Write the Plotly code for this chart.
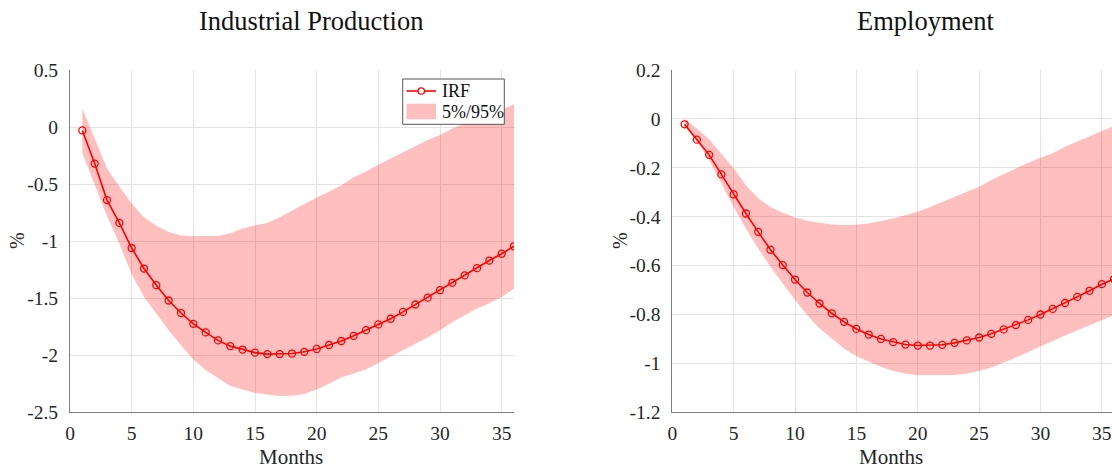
import plotly.graph_objects as go

months = list(range(1, 37))

# Industrial Production
ip_irf = [-0.03, -0.32, -0.64, -0.84, -1.06, -1.24, -1.386, -1.52, -1.63, -1.725,
          -1.80, -1.87, -1.92, -1.95, -1.977, -1.99, -1.99, -1.985, -1.97, -1.945,
          -1.91, -1.875, -1.83, -1.78, -1.73, -1.68, -1.62, -1.555, -1.495, -1.43,
          -1.365, -1.30, -1.237, -1.17, -1.11, -1.045]
ip_hi = [0.16, -0.10, -0.36, -0.52, -0.67, -0.79, -0.866, -0.92, -0.95, -0.955,
         -0.955, -0.955, -0.93, -0.89, -0.86, -0.84, -0.79, -0.73, -0.675, -0.617,
         -0.567, -0.51, -0.44, -0.39, -0.33, -0.275, -0.217, -0.164, -0.114, -0.07,
         -0.012, 0.032, 0.067, 0.105, 0.15, 0.20]
ip_lo = [-0.23, -0.50, -0.78, -1.02, -1.29, -1.49, -1.635, -1.78, -1.91, -2.04,
         -2.13, -2.20, -2.27, -2.30, -2.33, -2.345, -2.357, -2.355, -2.34, -2.30,
         -2.25, -2.195, -2.16, -2.125, -2.07, -2.01, -1.955, -1.90, -1.845, -1.78,
         -1.71, -1.65, -1.59, -1.545, -1.49, -1.415]

# Employment
emp_irf = [-0.022, -0.085, -0.147, -0.227, -0.309, -0.387, -0.462, -0.535, -0.598, -0.657,
           -0.71, -0.755, -0.795, -0.83, -0.859, -0.882, -0.90, -0.913, -0.923, -0.927,
           -0.927, -0.924, -0.916, -0.906, -0.894, -0.879, -0.861, -0.843, -0.822, -0.80,
           -0.777, -0.753, -0.728, -0.703, -0.676, -0.655]
emp_hi = [0.0, -0.039, -0.084, -0.141, -0.202, -0.271, -0.325, -0.36, -0.384, -0.403,
          -0.417, -0.425, -0.432, -0.434, -0.433, -0.428, -0.418, -0.407, -0.394, -0.38,
          -0.36, -0.339, -0.319, -0.298, -0.278, -0.25, -0.226, -0.202, -0.179, -0.159,
          -0.141, -0.114, -0.093, -0.073, -0.052, -0.028]
emp_lo = [-0.03, -0.093, -0.168, -0.264, -0.36, -0.448, -0.53, -0.605, -0.673, -0.741,
          -0.803, -0.857, -0.898, -0.939, -0.971, -0.991, -1.014, -1.031, -1.041, -1.048,
          -1.048, -1.048, -1.047, -1.041, -1.031, -1.017, -0.998, -0.976, -0.953, -0.932,
          -0.908, -0.886, -0.864, -0.844, -0.823, -0.803]

x_ticks = [0, 5, 10, 15, 20, 25, 30, 35]
ip_ticks = [0.5, 0, -0.5, -1, -1.5, -2, -2.5]
ip_ticktext = ["0.5", "0", "-0.5", "-1", "-1.5", "-2", "-2.5"]
emp_ticks = [0.2, 0, -0.2, -0.4, -0.6, -0.8, -1, -1.2]
emp_ticktext = ["0.2", "0", "-0.2", "-0.4", "-0.6", "-0.8", "-1", "-1.2"]
titles = ["Industrial Production", "Employment"]
legend_labels = ["IRF", "5%/95%"]

W, H = 1112, 468
FONT = "Liberation Serif, Times New Roman, serif"
RED = "#ff0000"
BAND = "rgba(255,0,0,0.25)"
TXT = "#262626"

fig = go.Figure()


def add_panel(xa, ya, irf, lo, hi):
    fig.add_trace(go.Scatter(
        x=months + months[::-1], y=hi + lo[::-1], xaxis=xa, yaxis=ya,
        fill="toself", fillcolor=BAND, line=dict(width=0), mode="lines",
        name=legend_labels[1], showlegend=False, hoverinfo="skip"))
    fig.add_trace(go.Scatter(
        x=months, y=irf, xaxis=xa, yaxis=ya, mode="lines+markers",
        line=dict(color=RED, width=1.6),
        marker=dict(symbol="circle-open", size=7, color=RED, line=dict(width=1.3)),
        name=legend_labels[0], showlegend=False))


add_panel("x", "y", ip_irf, ip_lo, ip_hi)
add_panel("x2", "y2", emp_irf, emp_lo, emp_hi)

y_dom = [1 - 412.3 / H, 1 - 70 / H]
axis_common = dict(
    showgrid=True, gridcolor="#e4e4e4", gridwidth=1, zeroline=False,
    showline=True, linecolor="#7f7f7f", linewidth=1, ticks="",
    tickfont=dict(family=FONT, size=19.5, color=TXT), automargin=False,
    mirror=False)


def px(x):
    return x / W


def py(y):
    return 1 - y / H


# hand-drawn legend box (MATLAB-style patch)
shapes = [
    dict(type="rect", xref="paper", yref="paper", x0=px(402.7), x1=px(504.3),
         y0=py(124.3), y1=py(79), fillcolor="white", line=dict(color="#555555", width=1),
         layer="above"),
    dict(type="line", xref="paper", yref="paper", x0=px(406.5), x1=px(436),
         y0=py(91), y1=py(91), line=dict(color=RED, width=1.6), layer="above"),
    dict(type="circle", xref="paper", yref="paper", x0=px(418), x1=px(424.5),
         y0=py(94.2), y1=py(87.8), fillcolor="white", line=dict(color=RED, width=1.3),
         layer="above"),
    dict(type="rect", xref="paper", yref="paper", x0=px(406.5), x1=px(436),
         y0=py(119.3), y1=py(103.7), fillcolor=BAND, line=dict(width=0), layer="above"),
]

annotations = [
    dict(text=titles[0], x=px(311), y=py(21)),
    dict(text=titles[1], x=px(926), y=py(21)),
]
for a in annotations:
    a.update(xref="paper", yref="paper", showarrow=False, xanchor="center",
             yanchor="middle", font=dict(family=FONT, size=26.5, color="#111111"))

extra = [
    dict(text="Months", x=px(291), y=py(457), font=dict(family=FONT, size=21, color=TXT)),
    dict(text="Months", x=px(891), y=py(457), font=dict(family=FONT, size=21, color=TXT)),
    dict(text="%", x=px(17), y=py(241), textangle=-90, font=dict(family=FONT, size=20, color=TXT)),
    dict(text="%", x=px(620), y=py(241), textangle=-90, font=dict(family=FONT, size=20, color=TXT)),
    dict(text=legend_labels[0], x=px(440), y=py(91), xanchor="left",
         font=dict(family=FONT, size=18, color="#111111")),
    dict(text=legend_labels[1], x=px(440), y=py(112), xanchor="left",
         font=dict(family=FONT, size=18, color="#111111")),
]
for a in extra:
    a.setdefault("xanchor", "center")
    a.update(xref="paper", yref="paper", showarrow=False, yanchor="middle")
annotations += extra

fig.update_layout(
    width=W, height=H, margin=dict(l=0, r=0, t=0, b=0),
    plot_bgcolor="white", paper_bgcolor="white",
    font=dict(family=FONT, color=TXT),
    xaxis=dict(domain=[px(70), px(514)], range=[0, 36], tickvals=x_ticks,
               anchor="y", ticklabelstandoff=3, **axis_common),
    yaxis=dict(domain=y_dom, range=[-2.5, 0.5], tickvals=ip_ticks, ticktext=ip_ticktext,
               anchor="x", ticklabelstandoff=7, **axis_common),
    xaxis2=dict(domain=[px(672.3), 1.0], range=[0, 35.83], tickvals=x_ticks,
                anchor="y2", ticklabelstandoff=3, **axis_common),
    yaxis2=dict(domain=y_dom, range=[-1.2, 0.2], tickvals=emp_ticks, ticktext=emp_ticktext,
                anchor="x2", ticklabelstandoff=7, **axis_common),
    showlegend=False,
    shapes=shapes,
    annotations=annotations,
)

fig.write_html("out.html", config={"displayModeBar": False},
               post_script="document.body.style.margin='0';document.body.style.padding='0';")
